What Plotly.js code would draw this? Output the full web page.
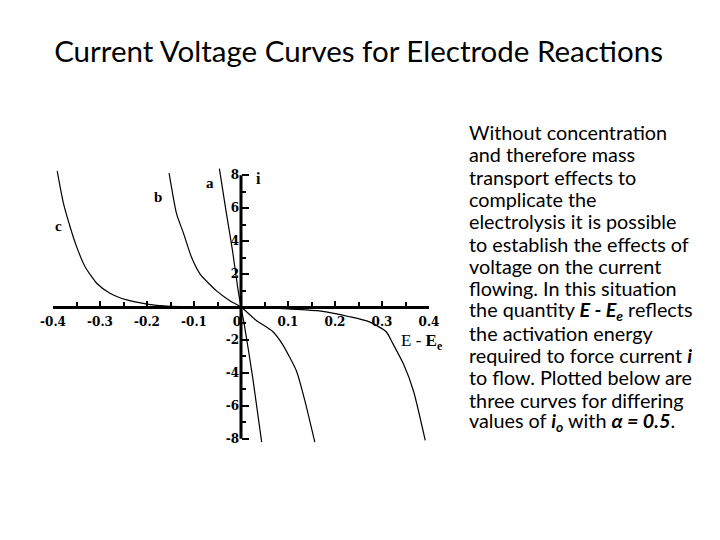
<!DOCTYPE html>
<html>
<head>
<meta charset="utf-8">
<script src="https://cdn.plot.ly/plotly-3.0.1.min.js"></script>
<style>html,body{margin:0;padding:0;background:#fff;}#chart{width:720px;height:540px;}</style>
</head>
<body>
<div id="chart"></div>
<script>
// Overpotential E - Ee (V) and current i
var aE = [-0.046, -0.032, -0.018, -0.007, 0, 0.007, 0.025, 0.044];
var aI = [8.4, 5.85, 3.41, 1.18, 0, -1.07, -4.3, -8.2];

var bE = [-0.153, -0.137, -0.123, -0.105, -0.087, -0.052, -0.023, 0, 0.032, 0.068, 0.088, 0.118, 0.136, 0.157];
var bI = [8.13, 5.65, 4.53, 3.0, 2.0, 0.98, 0.37, 0, -0.8, -1.5, -2.25, -3.88, -5.7, -8.2];

var cE = [-0.391, -0.378, -0.364, -0.350, -0.332, -0.307, -0.279, -0.243, -0.2, -0.158, -0.1, 0, 0.1, 0.17, 0.231, 0.273, 0.309, 0.324, 0.346, 0.367, 0.392];
var cI = [8.25, 6.32, 4.9, 3.68, 2.46, 1.44, 0.84, 0.43, 0.18, 0.05, 0.01, 0, -0.12, -0.25, -0.59, -0.9, -1.5, -2.27, -3.48, -5.1, -8.1];

var xTickVals = [-0.4, -0.3, -0.2, -0.1, 0, 0.1, 0.2, 0.3, 0.4];
var xTickText = ["-0.4", "-0.3", "-0.2", "-0.1", "0&nbsp;&nbsp;", "0.1", "0.2", "0.3", "0.4"];
var xMinorVals = [-0.35, -0.25, -0.15, -0.05, 0.05, 0.15, 0.25, 0.35];
var yTickVals = [-8, -6, -4, -2, 2, 4, 6, 8];
var yTickText = ["-8", "-6", "-4", "-2", "2", "4", "6", "8"];
var yMinorVals = [-7, -5, -3, -1, 1, 3, 5, 7];

var curveLabels = ["a", "b", "c"];

var titleText = "Current Voltage Curves for Electrode Reactions";
var bodyLines = [
  "Without concentration",
  "and therefore mass",
  "transport effects to",
  "complicate the",
  "electrolysis it is possible",
  "to establish the effects of",
  "voltage on the current",
  "flowing. In this situation",
  "the quantity <b><i>E - E<sub>e</sub></i></b> reflects",
  "the activation energy",
  "required to force current <b><i>i</i></b>",
  "to flow. Plotted below are",
  "three curves for differing",
  "values of <b><i>i<sub>o</sub></i></b> with <b><i>α = 0.5</i></b>."
];

var lineStyle = {color: "#000", width: 1.2, shape: "spline", smoothing: 0.6};
var traces = [
  {x: aE, y: aI, name: curveLabels[0], mode: "lines", line: lineStyle, hoverinfo: "skip"},
  {x: bE, y: bI, name: curveLabels[1], mode: "lines", line: lineStyle, hoverinfo: "skip"},
  {x: cE, y: cI, name: curveLabels[2], mode: "lines", line: lineStyle, hoverinfo: "skip"}
];

var serif = "Liberation Serif, Times New Roman, serif";
var tickFont = {family: "DejaVu Serif, serif", size: 12, color: "#000", weight: "bold"};
var labFont = {family: serif, size: 15, color: "#000", weight: "bold"};
var bodyFont = {family: "Lato, Open Sans, sans-serif", size: 19.8, color: "#000"};

// plot area geometry (pixels) used to place the side text lines
var M = {l: 53, r: 291, t: 167, b: 93};
var plotH = 540 - M.t - M.b, plotW = 720 - M.l - M.r;
function pyFrac(px) { return (540 - M.b - px) / plotH; }
function pxFrac(px) { return (px - M.l) / plotW; }

var annotations = [
  {text: curveLabels[0], x: -0.065, y: 7.5, xref: "x", yref: "y", showarrow: false, font: labFont},
  {text: curveLabels[1], x: -0.176, y: 6.7, xref: "x", yref: "y", showarrow: false, font: labFont},
  {text: curveLabels[2], x: -0.388, y: 4.9, xref: "x", yref: "y", showarrow: false, font: labFont},
  {text: "i", x: 0.037, y: 7.8, xref: "x", yref: "y", showarrow: false, font: {family: serif, size: 16, color: "#000", weight: "bold"}},
  {text: "E - <b>E<sub>e</sub></b>", x: 0.384, y: -2.1, xref: "x", yref: "y", showarrow: false, font: {family: serif, size: 17, color: "#000"}}
];
bodyLines.forEach(function (t, k) {
  annotations.push({
    text: t, xref: "paper", yref: "paper", x: pxFrac(467), y: pyFrac(132 + k * 22.3),
    xanchor: "left", yanchor: "middle", align: "left", showarrow: false, font: bodyFont
  });
});

var layout = {
  width: 720, height: 540,
  paper_bgcolor: "#fff", plot_bgcolor: "rgba(0,0,0,0)",
  showlegend: false,
  margin: {l: M.l, r: M.r, t: M.t, b: M.b, pad: 0},
  title: {
    text: titleText,
    font: {family: "Lato, Open Sans, sans-serif", size: 29.5, color: "#000"},
    x: 0.498, xref: "container", xanchor: "center",
    y: 0.905, yref: "container", yanchor: "middle"
  },
  xaxis: {
    range: [-0.4, 0.4], anchor: "free", position: 0.5,
    showgrid: false, zeroline: false,
    showline: true, linecolor: "#000", linewidth: 3,
    tickmode: "array", tickvals: xTickVals, ticktext: xTickText,
    ticks: "inside", ticklen: 5, tickwidth: 2, tickcolor: "#000",
    minor: {tickmode: "array", tickvals: xMinorVals, ticks: "inside", ticklen: 4, tickwidth: 2, tickcolor: "#000", showgrid: false},
    tickfont: tickFont, ticklabelstandoff: 3,
    fixedrange: true
  },
  yaxis: {
    range: [-8.5, 8.5], anchor: "free", position: 0.5,
    showgrid: false, zeroline: false, showline: false,
    tickmode: "array", tickvals: yTickVals, ticktext: yTickText,
    ticks: "inside", ticklen: 7, tickwidth: 2.5, tickcolor: "#000",
    minor: {tickmode: "array", tickvals: yMinorVals, ticks: "inside", ticklen: 4, tickwidth: 2, tickcolor: "#000", showgrid: false},
    tickfont: tickFont, ticklabelstandoff: 2,
    fixedrange: true
  },
  shapes: [
    {type: "line", xref: "x", yref: "y", x0: 0, x1: 0, y0: -8, y1: 8, line: {color: "#000", width: 3}}
  ],
  annotations: annotations
};

Plotly.newPlot("chart", traces, layout, {displayModeBar: false, staticPlot: true});
</script>
</body>
</html>
